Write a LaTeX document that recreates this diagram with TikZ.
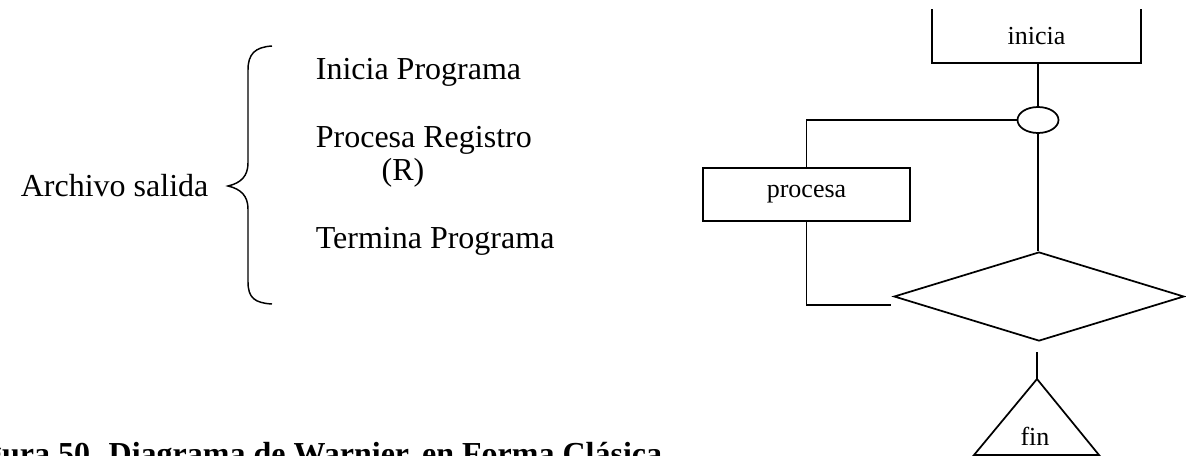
\documentclass[tikz,border=0pt]{standalone}
\usepackage{fontspec}
\setmainfont{Liberation Serif}
\usetikzlibrary{shapes.geometric}
\begin{document}
\begin{tikzpicture}[x=0.75pt,y=-0.75pt,line width=1.3pt,
  bigtext/.style={font=\fontsize{24}{28}\selectfont, inner sep=0pt},
  smalltext/.style={font=\fontsize{19.5}{22}\selectfont, inner sep=0pt},
  boxnode/.style={draw, rectangle, smalltext, minimum width=155.25pt, minimum height=39.75pt},
  ]
\clip (0,0) rectangle (1186,455);
\useasboundingbox (0,0) rectangle (1186,455);

% left: classic Warnier form
\node[bigtext, anchor=base west] (arch) at (20,196) {Archivo salida};
\node[bigtext, anchor=base west] (ip) at (315,79) {Inicia Programa};
\node[bigtext, anchor=base west] (pr) at (315,147) {Procesa Registro};
\node[bigtext, anchor=base] (r) at (403,180) {(R)};
\node[bigtext, anchor=base west] (tp) at (315,248) {Termina Programa};

% brace
\draw[line width=1.1pt] (272,46) .. controls (255,47) and (248,54) .. (248,70)
  -- (248,163) .. controls (248,176) and (241,183) .. (228,186)
  .. controls (241,189) and (248,196) .. (248,209)
  -- (248,282) .. controls (248,298) and (255,303) .. (272,304);

% right: diagram
\node[smalltext, minimum width=155.25pt, minimum height=39pt] (ini) at (1036.5,36) {inicia};
\draw (ini.north west) -- (ini.south west) -- (ini.south east) -- (ini.north east);

\node[draw, ellipse, minimum width=30.75pt, minimum height=19.5pt, inner sep=0pt] (ell) at (1038,120) {};
\draw (ell.north |- ini.south) -- (ell.north);

\node[boxnode] (pro) at (806.5,194.5) {procesa};
\draw (ell.west) -| (pro.north);

\coordinate (pe) at (891,305);
\draw (pro.south) |- (pe);

\node[draw, diamond, minimum width=217.5pt, minimum height=66.75pt, inner sep=0pt] (dia) at (1039,296.5) {};
\draw (ell.south) -- (ell.south |- dia.north);

\coordinate (c1) at (1037,352);
\coordinate (ta) at (1037,379);
\coordinate (tl) at (974,455);
\coordinate (tr) at (1099,455);
\draw (c1) -- (ta);
\draw (ta) -- (tl) -- (tr) -- cycle;
\node[smalltext] (fin) at (1035,436) {fin};

% caption (cut off by the page edges)
\node[bigtext, font=\fontsize{24}{28}\selectfont\bfseries, anchor=base east] (cap) at (663,464) {Figura 50. Diagrama de Warnier, en Forma Clásica};
\end{tikzpicture}
\end{document}
